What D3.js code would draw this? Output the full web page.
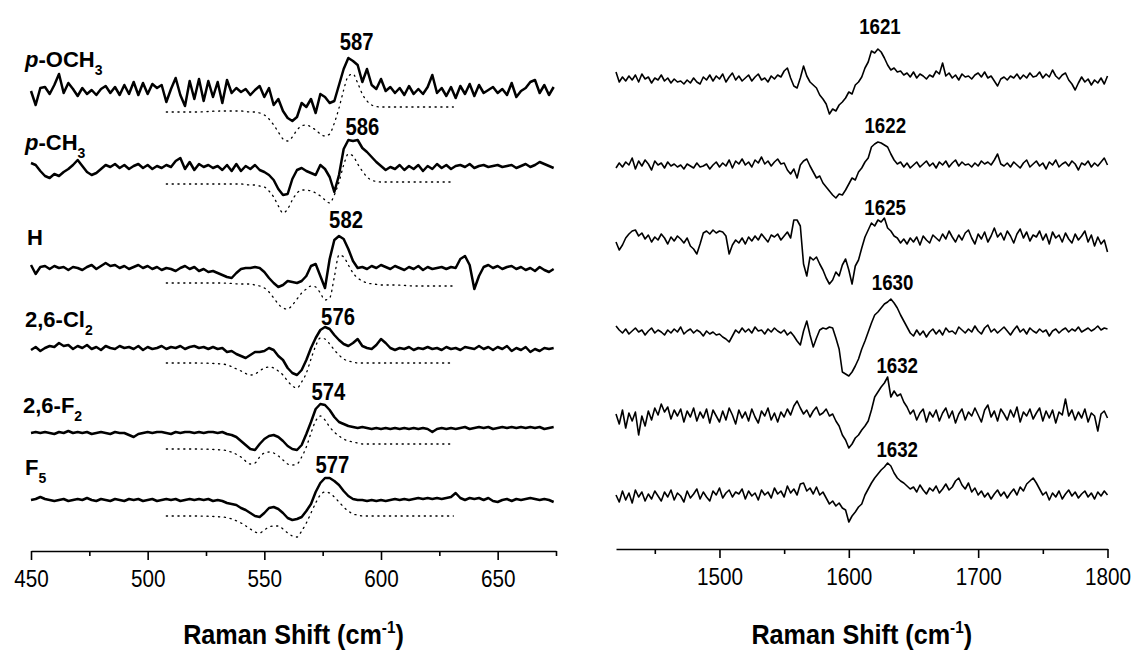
<!DOCTYPE html>
<html><head><meta charset="utf-8">
<script src="https://cdn.jsdelivr.net/npm/d3@7"></script>
<style>
body{margin:0;background:#fff;}
svg{display:block;}
text{font-family:"Liberation Sans",Arial,sans-serif;fill:#000;}
</style>
</head><body>
<svg id="chart" width="1135" height="650"></svg>
<script>
// ---------------- DATA ----------------
const compounds = ["p-OCH3", "p-CH3", "H", "2,6-Cl2", "2,6-F2", "F5"];
const lowPeakLabels = [587, 586, 582, 576, 574, 577];
const highPeakLabels = [1621, 1622, 1625, 1630, 1632, 1632];
const lowTicks = [450, 500, 550, 600, 650];
const lowMinorTicks = [475, 525, 575, 625, 675];
const highTicks = [1500, 1600, 1700, 1800];
const highMinorTicks = [1450, 1550, 1650, 1750];
const axisTitleMain = "Raman Shift (cm";
const axisTitleSup = "-1";
const axisTitleEnd = ")";

// sampling grids (cm-1)
const lowStart = 450, lowStep = 2, lowStop = 675;
const highStart = 1420, highStep = 2.5, highStop = 1800.1;
const simX = [508, 520, 532, 540, 544, 546, 548, 550, 552, 554, 556, 558, 560, 562, 564, 566, 568, 570, 572, 574, 576, 578, 580, 582, 584, 586, 588, 590, 592, 594, 597, 600, 606, 615, 631];

// stacking offsets (intensity units)
const lowOffsets = [460, 384, 283, 203, 120, 51];
const simOffsets = [441, 367, 268, 188, 104, 35];
const highOffsets = [471, 385, 311, 219, 133, 54];

// low-frequency measured spectra (450-674 cm-1)
const lowOCH3 = [0,-14,3,4,-3,6,17,-2,8,2, -5,3,-3,1,-4,2,5,-2,4,-4, 6,-3,9,-4,8,-3,7,3,6,-11, 2,13,-4,-15,10,-8,12,-10,10,-6, 9,-12,11,-2,3,-1,2,-4,1,5, -6,3,-14,-8,-20,-27,-30,-26,-12,-16, -8,-22,-3,-6,-12,-10,6,22,33,30, 26,9,22,6,2,12,0,4,-2,3, -4,5,-3,2,-3,4,16,-2,3,-5, 4,-7,5,-3,7,-5,6,-2,1,4, -2,2,-4,8,-6,0,3,9,11,-2, 6,-4,4];
const lowCH3 = [4,2,-4,-9,-11,-7,-9,-5,-2,2, 7,1,-5,-8,-6,-2,2,0,3,-1, 2,-2,1,3,-1,2,-2,1,-1,2, 0,6,9,-2,5,-3,3,0,2,-1, 1,-3,2,-4,3,-4,1,-2,2,-3, -5,-8,-13,-22,-28,-27,-12,-3,-1,-4, -6,-8,2,-2,-10,-25,-8,18,27,26, 27,19,15,10,5,1,-3,0,-2,2, -3,1,-2,2,-4,1,-2,3,-1,2, -2,1,2,0,3,-1,1,2,0,1, 2,0,1,2,-1,1,3,0,2,5, 3,1,-1];
const lowH = [3,-6,1,2,-1,2,0,1,-2,1, 0,-2,1,3,-1,2,5,2,3,0, 2,-1,1,3,0,2,-1,1,-2,0, -1,-3,0,2,-1,1,-3,-1,-4,-3, -5,-7,-9,-10,-5,-1,0,0,1,0, -4,-10,-15,-19,-17,-13,-14,-15,-13,-8, 2,4,-8,-20,9,28,32,29,19,7, 0,1,-1,2,0,3,1,-1,2,0, -2,1,-1,2,-2,1,-1,0,1,-1, 1,0,9,12,3,-21,-8,1,3,0, 2,-1,1,2,-1,1,-2,0,-3,1, -2,-4,-1];
const lowCl2 = [-2,1,-3,0,2,1,5,2,3,-1, 2,0,3,-1,1,-2,2,0,-1,2, 0,1,-1,2,-2,1,-1,0,2,-1, 1,0,2,-1,1,2,0,1,-1,1, -1,0,-4,-3,-6,-8,-10,-7,-4,-4, -3,0,-2,-8,-12,-20,-25,-27,-22,-12, 0,10,18,21,19,13,8,4,2,5, 9,2,0,-1,3,9,5,0,-2,0, -1,1,-2,0,-1,1,-1,0,-2,1, -1,0,-2,1,0,-1,2,-1,1,-2, 1,-1,2,-3,0,-2,1,-4,-1,-3, 0,-1,0];
const lowF2 = [-2,-1,-2,-1,-2,-3,-1,-2,0,-2, -1,-2,-1,-3,-2,-1,-2,-3,-1,-2, -2,-4,-6,-3,-2,-1,-2,-1,-1,-2, -3,-1,-2,-1,-1,-2,-1,-2,-1,-1, -2,-1,-3,-4,-6,-10,-14,-18,-19,-13, -8,-5,-4,-6,-10,-15,-18,-19,-14,-3, 9,22,27,26,21,14,9,7,5,4, 3,4,3,2,3,2,3,2,3,2, 3,2,3,2,3,2,-1,2,3,2, 3,2,3,4,2,3,4,3,4,2, 3,4,3,4,3,4,3,4,3,4, 2,3,4];
const lowF5 = [0,1,3,1,0,-1,0,1,-1,0, 1,0,2,0,-1,1,0,-1,1,0, -1,1,0,1,-1,0,1,-1,0,1, 0,1,-1,0,1,0,1,0,1,-1, 0,-1,-3,-4,-5,-8,-10,-13,-16,-17, -13,-8,-7,-9,-13,-18,-20,-19,-17,-11, -4,8,17,22,22,19,15,9,4,1, 0,0,-1,0,-1,0,-1,0,1,0, 1,0,1,2,1,2,1,2,1,2, 3,7,2,0,2,1,2,0,2,-1, -2,0,1,-1,1,0,1,2,1,0, 1,0,-2];

// simulated spectra (dotted), on simX
const simOCH3 = [-2,-2,-1,-1,-2,-2,-3,-5,-9,-15,-22,-29,-31,-27,-20,-16,-15,-17,-20,-24,-26,-24,-13,2,20,34,36,27,16,9,4,3,3,3,3];
const simCH3 = [0,0,0,0,-1,-1,-2,-3,-7,-13,-22,-29,-25,-16,-9,-6,-6,-7,-9,-12,-16,-19,-11,2,19,30,28,20,13,7,3,2,2,2,2];
const simH = [0,0,0,-1,-1,-2,-3,-5,-9,-15,-21,-25,-26,-22,-16,-10,-6,-3,-4,-10,-17,-15,6,28,26,18,10,5,2,0,-1,-2,-2,-3,-3];
const simCl2 = [0,0,-1,-8,-12,-11,-8,-5,-4,-5,-8,-12,-18,-23,-25,-19,-10,4,17,25,24,19,13,8,4,2,1,0,0,0,0,0,0,0,0];
const simF2 = [-2,-2,-3,-10,-17,-16,-10,-6,-5,-6,-9,-13,-17,-18,-17,-10,0,14,26,31,27,20,15,11,8,6,5,4,3,3,3,3,3,3,3];
const simF5 = [0,0,-1,-7,-13,-16,-17,-14,-11,-10,-10,-13,-17,-20,-21,-15,-7,3,13,21,24,23,19,14,9,5,2,1,0,0,0,0,0,0,0];

// high-frequency measured spectra (1420-1800 cm-1)
const highOCH3 = [8,-2,3,-1,4,0,5,-2,6,1, 3,-3,2,0,5,-1,2,-3,1,-2, -1,-4,0,-3,2,-2,-4,3,0,5, -1,4,1,6,-2,3,7,0,4,-1, 2,5,-1,3,6,0,2,-2,4,1, 5,3,9,12,2,-6,-8,2,14,4, -2,-5,-8,-15,-19,-24,-34,-29,-31,-25, -22,-18,-12,-14,-5,-2,3,12,18,29, 27,31,28,22,15,10,12,8,9,5, 7,3,8,2,6,4,1,5,3,9, 6,17,4,7,2,5,0,6,3,4, 1,5,7,3,8,2,4,-1,-6,1, 3,0,4,2,6,1,5,2,7,3, 4,8,2,6,3,10,4,1,5,7, 0,-4,-10,-3,3,-2,1,-5,0,-3, 2,-4,4];
const highCH3 = [-2,3,-1,4,1,8,-3,5,0,6, 2,-4,5,1,3,-2,4,0,2,-1, 1,-3,2,0,-2,3,-1,0,2,-3, 1,4,-1,3,0,6,-2,5,2,7, 1,4,-1,6,3,9,2,5,0,4, 7,2,3,-4,-8,-3,-12,1,5,7, 0,-6,-12,-10,-17,-21,-25,-29,-32,-28, -29,-24,-18,-12,-14,-6,-2,4,8,19, 22,24,23,21,19,12,6,2,4,-1, 3,-2,1,4,-1,2,5,0,3,-2, 4,1,5,-1,3,6,0,4,1,2, -1,3,0,5,2,4,1,6,12,2, 0,3,-1,4,1,-2,3,6,-1,2, 5,0,3,-3,4,1,6,-1,2,4, 0,5,2,-4,3,1,5,-1,3,0, 4,8,1];
const highH = [-2,-10,-5,2,6,9,10,4,7,1, 5,-2,3,0,6,2,-4,3,-1,4, 1,-3,2,-6,-9,-14,-4,7,9,6, 10,7,9,8,4,-14,-5,0,-3,2, -4,3,-1,4,0,6,2,-2,5,3, 6,0,4,8,2,20,20,14,-24,-36, -17,-20,-17,-24,-30,-38,-44,-40,-32,-36, -25,-19,-30,-44,-26,-20,-8,3,10,17, 14,20,18,22,12,9,4,2,-3,1, -4,2,-2,3,-5,4,0,-3,5,2, -1,6,1,9,3,-2,5,0,7,10, 2,-4,6,1,8,-2,4,12,3,7, 0,9,4,-3,6,11,2,8,-1,5, 3,9,0,6,-4,8,2,5,-2,7, 1,-3,6,0,4,9,-2,5,-6,3, -4,0,-12];
const highCl2 = [6,2,-1,3,-2,1,4,0,2,-3, 1,4,-1,2,0,-3,2,-1,3,0, 5,-2,1,3,-1,2,0,-4,1,-2, 0,-3,-2,-5,-7,-10,-4,2,-1,4, 0,3,-1,5,1,2,-2,3,0,4, 1,-1,2,-3,0,-4,-9,-13,1,11, -3,-15,-6,2,4,3,5,4,-6,-17, -40,-42,-44,-40,-34,-27,-17,-9,0,9, 17,20,24,28,30,33,29,24,17,11, 5,-1,-4,2,-3,1,-5,0,3,-2, 2,-3,4,0,1,-2,5,2,-1,3, 0,6,1,-2,4,7,0,3,-1,2, 5,1,-3,2,6,0,3,-2,4,1, -1,3,0,2,-4,1,3,-1,2,4, 0,3,1,5,0,2,4,1,3,6, 2,4,3];
const highF2 = [4,-6,8,-10,5,-3,6,-17,2,-8, 7,-2,10,3,14,6,11,-1,8,2, 9,-4,7,1,10,-3,6,0,9,-5, 8,2,-4,7,-2,10,3,-6,8,0, 6,-3,9,1,-5,7,2,10,-2,5, -4,6,1,9,3,12,17,10,4,8, 1,7,11,3,5,9,2,4,-3,-8, -17,-22,-30,-26,-20,-17,-12,-8,-3,8, 21,26,31,35,41,21,27,22,24,16, 11,4,8,-2,5,9,-4,6,1,8, -3,5,10,0,7,-5,4,9,-2,6, 2,10,3,-4,8,13,1,7,-3,9, 4,-2,8,1,11,-4,6,2,9,-1, 5,10,-3,7,0,8,-5,6,3,19, 2,8,-2,6,0,9,-4,5,2,-13, 4,7,0];
const highF5 = [2,-5,6,-3,4,-6,7,0,5,-4, 3,-2,6,1,-4,5,0,7,-3,4, 1,-5,6,-1,3,8,-2,5,0,-4, 6,2,9,-1,4,7,0,5,3,8, -2,6,1,4,-3,7,2,5,-1,9, 3,6,0,11,4,8,2,13,14,6, 9,3,10,2,5,-1,-7,-4,-9,-6, -11,-13,-25,-19,-15,-10,-7,2,8,14, 19,23,27,30,34,31,24,19,16,14, 11,8,10,5,12,7,3,9,6,11, 4,8,13,7,10,16,19,12,8,14, 5,9,2,6,0,4,-2,3,7,1, 5,-1,4,8,2,10,6,13,16,19, 14,8,2,5,-3,4,0,6,-2,3, 7,1,5,-1,3,6,0,4,-2,5, 1,6,2];

const lowSpectra = [lowOCH3, lowCH3, lowH, lowCl2, lowF2, lowF5];
const simSpectra = [simOCH3, simCH3, simH, simCl2, simF2, simF5];
const highSpectra = [highOCH3, highCH3, highH, highCl2, highF2, highF5];

// ---------------- LAYOUT ----------------
const svg = d3.select("#chart");
const axisLowY = 551, axisHighY = 549;
const xLow = d3.scaleLinear().domain([450, 675]).range([31, 556]);
const xHigh = d3.scaleLinear().domain([1420, 1800]).range([616, 1107.5]);
const y = d3.scaleLinear().domain([0, 551]).range([551, 0]);

const nameX = [25, 25, 27, 25, 23, 25];
const nameY = [67, 150, 245, 327, 413, 475];
const lowLabelDx = [6, 14, 7, 13, 8, 5];
const lowLabelY = [50, 135, 228, 325, 400, 473];
const highLabelDx = [4, 8, 4, 5, 7, 7];
const highLabelY = [34, 133, 215, 290, 373, 457];

const lowX = d3.range(lowStart, lowStop, lowStep);
const highX = d3.range(highStart, highStop, highStep);

function drawLine(xs, vals, off, xScale, width, dash, curve) {
  const pts = [];
  for (let j = 0; j < Math.min(xs.length, vals.length); j++) pts.push([xs[j], off + vals[j]]);
  const gen = d3.line().x(d => xScale(d[0])).y(d => y(d[1])).curve(curve || d3.curveLinear);
  const p = svg.append("path").datum(pts).attr("d", gen)
    .attr("fill", "none").attr("stroke", "#000").attr("stroke-width", width)
    .attr("stroke-linejoin", "round").attr("stroke-linecap", dash ? "round" : "butt");
  if (dash) p.attr("stroke-dasharray", dash);
}

// simulated dotted spectra
simSpectra.forEach((s, i) => drawLine(simX, s, simOffsets[i], xLow, 1.3, "1.2,4.6", d3.curveMonotoneX));
// measured spectra
lowSpectra.forEach((s, i) => drawLine(lowX, s, lowOffsets[i], xLow, 2.5));
highSpectra.forEach((s, i) => drawLine(highX, s, highOffsets[i], xHigh, 1.6));

// compound names
compounds.forEach((c, i) => {
  const t = svg.append("text").attr("x", nameX[i]).attr("y", nameY[i])
    .style("font-size", "22px").style("font-weight", "bold");
  let rest = c;
  if (rest.startsWith("p-")) {
    t.append("tspan").style("font-style", "italic").text("p");
    rest = rest.slice(1);
  }
  const m = rest.match(/^(.*?[A-Za-z])(\d+)$/);
  if (m) {
    t.append("tspan").text(m[1]);
    t.append("tspan").attr("dy", 8).style("font-size", "14px").text(m[2]);
  } else {
    t.append("tspan").text(rest);
  }
});

// peak labels
function scaledText(x, yy, txt, size, weight, sx) {
  return svg.append("text").attr("transform", `translate(${x},${yy}) scale(${sx},1)`)
    .attr("text-anchor", "middle").style("font-size", size + "px").style("font-weight", weight).text(txt);
}
lowPeakLabels.forEach((p, i) => scaledText(xLow(p) + lowLabelDx[i], lowLabelY[i], p, 23, "bold", 0.88));
highPeakLabels.forEach((p, i) => scaledText(xHigh(p) + highLabelDx[i], highLabelY[i], p, 22, "bold", 0.85));

// axes
function drawAxis(scale, yPos, majors, minors) {
  const gMin = svg.append("g").attr("transform", `translate(0,${yPos})`)
    .call(d3.axisBottom(scale).tickValues(minors).tickSize(5).tickSizeOuter(0).tickFormat(""));
  gMin.select(".domain").remove();
  const gMaj = svg.append("g").attr("transform", `translate(0,${yPos})`)
    .call(d3.axisBottom(scale).tickValues(majors).tickSize(9).tickSizeOuter(0).tickFormat(d3.format("d")));
  [gMin, gMaj].forEach(g => g.selectAll("path,line").attr("stroke", "#000").attr("stroke-width", 1.6));
  gMaj.selectAll("text").attr("y", 36).attr("dy", null).attr("fill", "#000")
    .style("font-size", "23px").style("font-family", '"Liberation Sans",Arial,sans-serif')
    .attr("transform", "scale(0.9,1)");
}
drawAxis(xLow, axisLowY, lowTicks, lowMinorTicks);
drawAxis(xHigh, axisHighY, highTicks, highMinorTicks);

// axis titles
function axisTitle(cx) {
  const t = svg.append("text").attr("transform", `translate(${cx},644) scale(0.9,1)`)
    .attr("text-anchor", "middle").style("font-size", "28px").style("font-weight", "bold");
  t.append("tspan").text(axisTitleMain);
  t.append("tspan").attr("dy", -11).style("font-size", "17px").text(axisTitleSup);
  t.append("tspan").attr("dy", 11).text(axisTitleEnd);
}
axisTitle((xLow.range()[0] + xLow.range()[1]) / 2);
axisTitle((xHigh.range()[0] + xHigh.range()[1]) / 2);
</script>
</body></html>
